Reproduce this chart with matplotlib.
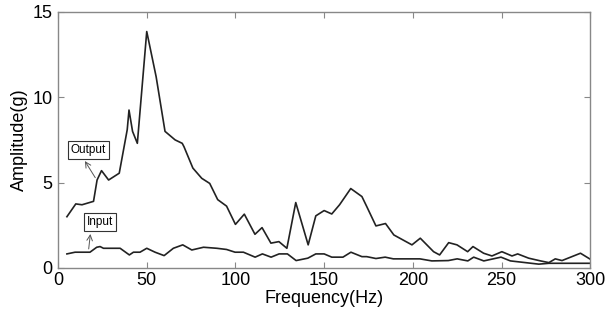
import matplotlib
matplotlib.use("Agg")
from matplotlib import pyplot as plt

# values
out_f = [5, 10, 13.5, 20, 22, 24.5, 28.5, 34.5, 39, 40, 42, 44.7, 50, 55.3, 60.3,
         66, 70, 71, 76, 81, 85.5, 90, 95, 100, 105, 111, 115, 120, 124.5, 129,
         134, 141, 145.3, 150, 154.3, 158.7, 165, 171.3, 174, 179.2, 184.6, 189.3,
         199.5, 204.2, 211.7, 215.1, 220.2, 224.9, 230.9, 233.9, 239.9, 244.6,
         250.2, 255.9, 259.1, 265.3, 272, 276.7, 280.3, 284.1, 294.5, 300]
out_a = [3.0, 3.75, 3.7, 3.9, 5.15, 5.7, 5.15, 5.55, 8.1, 9.25, 8.0, 7.3, 13.85,
         11.2, 8.0, 7.5, 7.3, 7.1, 5.85, 5.25, 4.95, 4.0, 3.62, 2.55, 3.15, 1.97,
         2.36, 1.45, 1.54, 1.15, 3.83, 1.35, 3.05, 3.36, 3.16, 3.7, 4.65, 4.18,
         3.6, 2.46, 2.6, 1.93, 1.35, 1.74, 0.95, 0.76, 1.48, 1.35, 0.95, 1.25,
         0.86, 0.70, 0.95, 0.70, 0.82, 0.57, 0.41, 0.31, 0.53, 0.43, 0.86, 0.51]

in_f = [5, 9.6, 18, 21.8, 23.7, 25.6, 29.3, 35, 40.2, 42.5, 46.2, 50, 54.7, 59.8,
        65, 70.3, 75.4, 82, 89.5, 95, 99.8, 104.5, 111.1, 115.2, 120.1, 124.6,
        129.3, 134.2, 140.8, 145.3, 150, 154.3, 160.6, 165.1, 171.3, 174, 179.2,
        184.4, 189, 204, 210.7, 220, 225, 231, 234.3, 240, 249.7, 255, 271,
        276.7, 300]
in_a = [0.82, 0.92, 0.92, 1.21, 1.25, 1.15, 1.15, 1.15, 0.76, 0.92, 0.92, 1.15,
        0.92, 0.72, 1.15, 1.35, 1.05, 1.21, 1.15, 1.08, 0.92, 0.92, 0.63, 0.82,
        0.63, 0.82, 0.82, 0.43, 0.57, 0.82, 0.82, 0.63, 0.63, 0.92, 0.66, 0.66,
        0.55, 0.63, 0.53, 0.53, 0.41, 0.43, 0.53, 0.41, 0.63, 0.41, 0.63, 0.41,
        0.22, 0.27, 0.27]

xticks = [0, 50, 100, 150, 200, 250, 300]
yticks = [0, 5, 10, 15]

plt.rcParams['font.family'] = ['Liberation Sans', 'DejaVu Sans']

fig = plt.figure(figsize=(6.11, 3.22), dpi=100)
ax = fig.add_axes([0.095, 0.168, 0.871, 0.795])

ax.plot(out_f, out_a, color="#222222", lw=1.2)
ax.plot(in_f, in_a, color="#222222", lw=1.2)

ax.set_xlim(0, 300)
ax.set_ylim(0, 15)
ax.set_xticks(xticks)
ax.set_yticks(yticks)
ax.tick_params(direction="in", top=True, right=True, length=4,
               color="#888888", labelsize=13)
ax.tick_params(axis="x", pad=3)
ax.tick_params(axis="y", pad=4)
for s in ax.spines.values():
    s.set_color("#888888")
    s.set_linewidth(1)

ax.set_xlabel("Frequency(Hz)", fontsize=13, labelpad=1)
ax.set_ylabel("Amplitude(g)", fontsize=13, labelpad=3)

# text boxes with little arrows, as in the source
box = dict(boxstyle="square,pad=0.25", fc="white", ec="#333333", lw=0.8)
ax.text(17, 6.9, "Output", fontsize=8.5, ha="center", va="center", bbox=box)
ax.annotate("", xy=(14.3, 6.4), xytext=(21.8, 5.15),
            arrowprops=dict(arrowstyle="->", color="#555555", lw=0.7))
ax.text(23.7, 2.67, "Input", fontsize=8.5, ha="center", va="center", bbox=box)
ax.annotate("", xy=(18.4, 2.15), xytext=(17.1, 0.95),
            arrowprops=dict(arrowstyle="->", color="#555555", lw=0.7))

fig.savefig("out.png", dpi=100)
